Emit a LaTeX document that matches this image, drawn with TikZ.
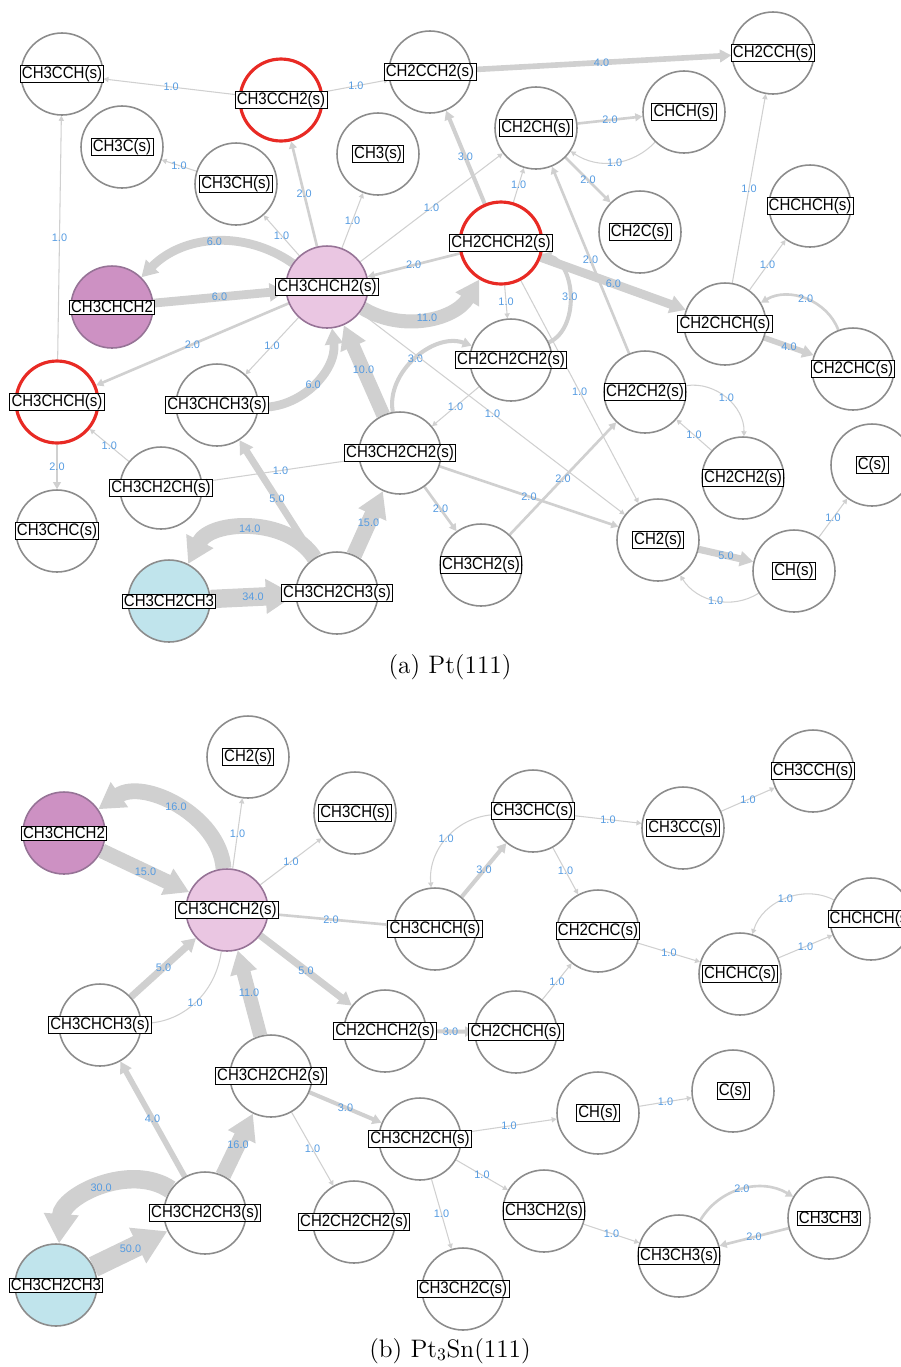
\documentclass[tikz,border=0pt]{standalone}
\usepackage{fontspec}
\newfontfamily\arial[FakeStretch=0.9]{Liberation Sans}
\newfontfamily\arialn{Liberation Sans}
\usetikzlibrary{arrows.meta}
\definecolor{edg}{RGB}{208,208,208}
\definecolor{ring}{RGB}{140,140,140}
\definecolor{hotred}{RGB}{232,42,36}
\definecolor{numblue}{RGB}{85,155,225}
\definecolor{purp}{RGB}{205,145,195}
\definecolor{pink}{RGB}{234,198,226}
\definecolor{cyan}{RGB}{192,228,236}
\definecolor{dring}{RGB}{150,115,150}
\pgfdeclarelayer{bg}
\pgfsetlayers{bg,main}

\begin{document}
\begin{tikzpicture}[x=0.02cm,y=-0.02cm,
    spc/.style={circle,draw=ring,line width=0.9pt,fill=white,minimum size=1.64cm,inner sep=0pt},
    hot/.style={draw=hotred,line width=1.8pt},
    gasp/.style={fill=purp,draw=dring},
    surp/.style={fill=pink,draw=dring},
    gasc/.style={fill=cyan},
    tag/.style={draw=black,fill=white,line width=0.5pt,inner xsep=1pt,inner ysep=0.6pt,font=\arial\fontsize{9.5}{10}\selectfont},
    fl/.style={draw=edg,line width=#1,-{Triangle[length=2pt 1.4,width=2pt 1.6]}},
    lbl/.style={text=numblue,inner sep=0.5pt,font=\arialn\fontsize{6.2}{6.2}\selectfont}]
    \useasboundingbox (0,0) rectangle (901,1367);

    % (a) Pt(111)
    \node[spc] (a3cch) at (62,74) {}; \node[tag] (a3cch-t) at (a3cch) {CH3CCH(s)};
    \node[spc,hot] (a3cch2) at (281,100) {}; \node[tag] (a3cch2-t) at (a3cch2) {CH3CCH2(s)};
    \node[spc] (a2cch2) at (430,72) {}; \node[tag] (a2cch2-t) at (a2cch2) {CH2CCH2(s)};
    \node[spc] (a2cch) at (773,53) {}; \node[tag] (a2cch-t) at (a2cch) {CH2CCH(s)};
    \node[spc] (a3c) at (122,147) {}; \node[tag] (a3c-t) at (a3c) {CH3C(s)};
    \node[spc] (a3ch) at (236,184) {}; \node[tag] (a3ch-t) at (a3ch) {CH3CH(s)};
    \node[spc] (a3) at (378,154) {}; \node[tag] (a3-t) at (a3) {CH3(s)};
    \node[spc] (a2ch) at (536,128) {}; \node[tag] (a2ch-t) at (a2ch) {CH2CH(s)};
    \node[spc] (ach) at (684,112) {}; \node[tag] (ach-t) at (ach) {CHCH(s)};
    \node[spc] (a2c) at (640,232) {}; \node[tag] (a2c-t) at (a2c) {CH2C(s)};
    \node[spc] (achchch) at (810,206) {}; \node[tag] (achchch-t) at (achchch) {CHCHCH(s)};
    \node[spc,hot] (a2ch2) at (501,243) {}; \node[tag] (a2ch2-t) at (a2ch2) {CH2CHCH2(s)};
    \node[spc,gasp] (agas) at (112,307) {}; \node[tag] (agas-t) at (agas) {CH3CHCH2};
    \node[spc,surp] (aprop) at (327,287) {}; \node[tag] (aprop-t) at (aprop) {CH3CHCH2(s)};
    \node[spc] (a2chch) at (725,324) {}; \node[tag] (a2chch-t) at (a2chch) {CH2CHCH(s)};
    \node[spc] (a2chc) at (853,369) {}; \node[tag] (a2chc-t) at (a2chc) {CH2CHC(s)};
    \node[spc] (a222) at (511,360) {}; \node[tag] (a222-t) at (a222) {CH2CH2CH2(s)};
    \node[spc,hot] (a3chch) at (57,402) {}; \node[tag] (a3chch-t) at (a3chch) {CH3CHCH(s)};
    \node[spc] (a3ch3) at (217,405) {}; \node[tag] (a3ch3-t) at (a3ch3) {CH3CHCH3(s)};
    \node[spc] (a32ch2) at (400,453) {}; \node[tag] (a32ch2-t) at (a32ch2) {CH3CH2CH2(s)};
    \node[spc] (aet) at (645,392) {}; \node[tag] (aet-t) at (aet) {CH2CH2(s)};
    \node[spc] (aetb) at (743,478) {}; \node[tag] (aetb-t) at (aetb) {CH2CH2(s)};
    \node[spc] (ac) at (872,465) {}; \node[tag] (ac-t) at (ac) {C(s)};
    \node[spc] (a32ch) at (161,488) {}; \node[tag] (a32ch-t) at (a32ch) {CH3CH2CH(s)};
    \node[spc] (a3chc) at (57,531) {}; \node[tag] (a3chc-t) at (a3chc) {CH3CHC(s)};
    \node[spc] (a32) at (481,565) {}; \node[tag] (a32-t) at (a32) {CH3CH2(s)};
    \node[spc] (ach2) at (658,540) {}; \node[tag] (ach2-t) at (ach2) {CH2(s)};
    \node[spc] (amch) at (794,571) {}; \node[tag] (amch-t) at (amch) {CH(s)};
    \node[spc,gasc] (apgas) at (169,601) {}; \node[tag] (apgas-t) at (apgas) {CH3CH2CH3};
    \node[spc] (apane) at (337,593) {}; \node[tag] (apane-t) at (apane) {CH3CH2CH3(s)};
    \node[anchor=base] (capa) at (450,673) {\fontsize{14.4}{16}\selectfont (a) Pt(111)};

    \begin{pgfonlayer}{bg}
    \draw[fl=0.6pt] (a3cch2) -- node[lbl]{1.0} (a3cch);
    \draw[fl=0.6pt] (a3cch2) -- node[lbl]{1.0} (a2cch2);
    \draw[fl=3.2pt] (a2cch2) -- node[lbl]{4.0} (a2cch);
    \draw[fl=0.6pt] (a3ch) -- node[lbl]{1.0} (a3c);
    \draw[fl=1.5pt] (aprop) -- node[lbl]{2.0} (a3cch2);
    \draw[fl=0.6pt] (aprop) -- node[lbl]{1.0} (a3ch);
    \draw[fl=0.6pt] (aprop) -- node[lbl]{1.0} (a3);
    \draw[fl=0.6pt] (aprop) -- node[lbl]{1.0} (a2ch);
    \draw[fl=5pt] (aprop) to[bend right=40] node[lbl]{6.0} (agas);
    \draw[fl=5pt] (agas) -- node[lbl]{6.0} (aprop);
    \draw[fl=1.5pt] (a2ch2) -- node[lbl]{2.0} (aprop);
    \draw[fl=8pt] (aprop) to[bend right=45] node[lbl]{11.0} (a2ch2);
    \draw[fl=1.5pt] (aprop) -- node[lbl]{2.0} (a3chch);
    \draw[fl=0.6pt] (aprop) -- node[lbl]{1.0} (a3ch3);
    \draw[fl=5pt] (a3ch3) to[bend right=50] node[lbl]{6.0} (aprop);
    \draw[fl=8pt] (a32ch2) -- node[lbl]{10.0} (aprop);
    \draw[fl=2.3pt] (a32ch2) to[bend left=60] node[lbl]{3.0} (a222);
    \draw[fl=0.6pt] (aprop) -- node[lbl]{1.0} (ach2);
    \draw[fl=0.6pt] (a222) -- node[lbl]{1.0} (a32ch2);
    \draw[fl=0.6pt] (a2ch2) -- node[lbl]{1.0} (a222);
    \draw[fl=2.3pt] (a222) to[bend right=70] node[lbl]{3.0} (a2ch2);
    \draw[fl=0.6pt] (a2ch2) -- node[lbl]{1.0} (a2ch);
    \draw[fl=2.3pt] (a2ch2) -- node[lbl]{3.0} (a2cch2);
    \draw[fl=1.5pt] (a2ch) -- node[lbl]{2.0} (ach);
    \draw[fl=0.6pt] (ach) to[bend left=40] node[lbl]{1.0} (a2ch);
    \draw[fl=1.5pt] (a2ch) -- node[lbl]{2.0} (a2c);
    \draw[fl=1.5pt] (aet) -- node[lbl]{2.0} (a2ch);
    \draw[fl=5pt] (a2ch2) -- node[lbl]{6.0} (a2chch);
    \draw[fl=0.6pt] (a2chch) -- node[lbl]{1.0} (a2cch);
    \draw[fl=0.6pt] (a2chch) -- node[lbl]{1.0} (achchch);
    \draw[fl=1.5pt] (a2chc) to[bend right=50] node[lbl]{2.0} (a2chch);
    \draw[fl=3.2pt] (a2chch) -- node[lbl]{4.0} (a2chc);
    \draw[fl=0.6pt] (aet) to[bend left=50] node[lbl]{1.0} (aetb);
    \draw[fl=0.6pt] (aetb) -- node[lbl]{1.0} (aet);
    \draw[fl=1.5pt] (a32) -- node[lbl]{2.0} (aet);
    \draw[fl=1.5pt] (a32ch2) -- node[lbl]{2.0} (ach2);
    \draw[fl=1.5pt] (a32ch2) -- node[lbl]{2.0} (a32);
    \draw[fl=0.6pt] (a32ch2) -- node[lbl]{1.0} (a32ch);
    \draw[fl=0.6pt] (a32ch) -- node[lbl]{1.0} (a3chch);
    \draw[fl=0.6pt] (a3chch) -- node[lbl]{1.0} (a3cch);
    \draw[fl=1.5pt] (a3chch) -- node[lbl]{2.0} (a3chc);
    \draw[fl=4pt] (apane) -- node[lbl]{5.0} (a3ch3);
    \draw[fl=9pt] (apane) to[bend right=60] node[lbl]{14.0} (apgas);
    \draw[fl=10.5pt] (apgas) -- node[lbl]{34.0} (apane);
    \draw[fl=9pt] (apane) -- node[lbl]{15.0} (a32ch2);
    \draw[fl=4pt] (ach2) -- node[lbl]{5.0} (amch);
    \draw[fl=0.6pt] (amch) to[bend left=45] node[lbl]{1.0} (ach2);
    \draw[fl=0.6pt] (amch) -- node[lbl]{1.0} (ac);
    \draw[fl=0.6pt] (a2ch2) -- node[lbl]{1.0} (ach2);
    \end{pgfonlayer}

    % (b) Pt3Sn(111)
    \node[spc] (b2) at (248,757) {}; \node[tag] (b2-t) at (b2) {CH2(s)};
    \node[spc] (b3ch) at (355,813) {}; \node[tag] (b3ch-t) at (b3ch) {CH3CH(s)};
    \node[spc,gasp] (bgas) at (64,833) {}; \node[tag] (bgas-t) at (bgas) {CH3CHCH2};
    \node[spc,surp] (bprop) at (227,910) {}; \node[tag] (bprop-t) at (bprop) {CH3CHCH2(s)};
    \node[spc] (b3chc) at (533,811) {}; \node[tag] (b3chc-t) at (b3chc) {CH3CHC(s)};
    \node[spc] (b3cc) at (683,828) {}; \node[tag] (b3cc-t) at (b3cc) {CH3CC(s)};
    \node[spc] (b3cch) at (813,771) {}; \node[tag] (b3cch-t) at (b3cch) {CH3CCH(s)};
    \node[spc] (b3chch) at (435,929) {}; \node[tag] (b3chch-t) at (b3chch) {CH3CHCH(s)};
    \node[spc] (b2chc) at (598,931) {}; \node[tag] (b2chc-t) at (b2chc) {CH2CHC(s)};
    \node[spc] (bchchch) at (871,919) {}; \node[tag] (bchchch-t) at (bchchch) {CHCHCH(s)};
    \node[spc] (bchchc) at (740,974) {}; \node[tag] (bchchc-t) at (bchchc) {CHCHC(s)};
    \node[spc] (b3ch3) at (100,1025) {}; \node[tag] (b3ch3-t) at (b3ch3) {CH3CHCH3(s)};
    \node[spc] (b2ch2) at (385,1031) {}; \node[tag] (b2ch2-t) at (b2ch2) {CH2CHCH2(s)};
    \node[spc] (b2chch) at (516,1032) {}; \node[tag] (b2chch-t) at (b2chch) {CH2CHCH(s)};
    \node[spc] (b32ch2) at (271,1076) {}; \node[tag] (b32ch2-t) at (b32ch2) {CH3CH2CH2(s)};
    \node[spc] (bch) at (598,1113) {}; \node[tag] (bch-t) at (bch) {CH(s)};
    \node[spc] (bc) at (733,1091) {}; \node[tag] (bc-t) at (bc) {C(s)};
    \node[spc] (b32ch) at (420,1139) {}; \node[tag] (b32ch-t) at (b32ch) {CH3CH2CH(s)};
    \node[spc] (b32) at (544,1211) {}; \node[tag] (b32-t) at (b32) {CH3CH2(s)};
    \node[spc] (beth) at (829,1218) {}; \node[tag] (beth-t) at (beth) {CH3CH3};
    \node[spc] (bethS) at (679,1256) {}; \node[tag] (bethS-t) at (bethS) {CH3CH3(s)};
    \node[spc] (bpane) at (205,1213) {}; \node[tag] (bpane-t) at (bpane) {CH3CH2CH3(s)};
    \node[spc] (b222) at (354,1222) {}; \node[tag] (b222-t) at (b222) {CH2CH2CH2(s)};
    \node[spc] (b32c) at (463,1289) {}; \node[tag] (b32c-t) at (b32c) {CH3CH2C(s)};
    \node[spc,gasc] (bpgas) at (56,1285) {}; \node[tag] (bpgas-t) at (bpgas) {CH3CH2CH3};
    \node[anchor=base] (capb) at (450,1357) {\fontsize{14.4}{16}\selectfont (b) Pt$_3$Sn(111)};

    \begin{pgfonlayer}{bg}
    \draw[fl=9pt] (bprop) to[bend right=60] node[lbl]{16.0} (bgas);
    \draw[fl=8.5pt] (bgas) -- node[lbl]{15.0} (bprop);
    \draw[fl=0.6pt] (bprop) -- node[lbl]{1.0} (b2);
    \draw[fl=0.6pt] (bprop) -- node[lbl]{1.0} (b3ch);
    \draw[fl=1.5pt] (bprop) -- node[lbl]{2.0} (b3chch);
    \draw[fl=4pt] (bprop) -- node[lbl]{5.0} (b2ch2);
    \draw[fl=4pt] (b3ch3) -- node[lbl]{5.0} (bprop);
    \draw[fl=0.6pt] (bprop) to[bend left=40] node[lbl]{1.0} (b3ch3);
    \draw[fl=8pt] (b32ch2) -- node[lbl]{11.0} (bprop);
    \draw[fl=2.3pt] (b3chch) -- node[lbl]{3.0} (b3chc);
    \draw[fl=0.6pt] (b3chc) to[bend right=45] node[lbl]{1.0} (b3chch);
    \draw[fl=0.6pt] (b3chc) -- node[lbl]{1.0} (b3cc);
    \draw[fl=0.6pt] (b3cc) -- node[lbl]{1.0} (b3cch);
    \draw[fl=0.6pt] (b3chc) -- node[lbl]{1.0} (b2chc);
    \draw[fl=0.6pt] (b2chc) -- node[lbl]{1.0} (bchchc);
    \draw[fl=0.6pt] (bchchc) -- node[lbl]{1.0} (bchchch);
    \draw[fl=0.6pt] (bchchch) to[bend right=50] node[lbl]{1.0} (bchchc);
    \draw[fl=2.3pt] (b2ch2) -- node[lbl]{3.0} (b2chch);
    \draw[fl=0.6pt] (b2chch) -- node[lbl]{1.0} (b2chc);
    \draw[fl=9pt] (bpane) -- node[lbl]{16.0} (b32ch2);
    \draw[fl=3.2pt] (bpane) -- node[lbl]{4.0} (b3ch3);
    \draw[fl=10.5pt] (bpane) to[bend right=60] node[lbl]{30.0} (bpgas);
    \draw[fl=12pt] (bpgas) -- node[lbl]{50.0} (bpane);
    \draw[fl=2.3pt] (b32ch2) -- node[lbl]{3.0} (b32ch);
    \draw[fl=0.6pt] (b32ch2) -- node[lbl]{1.0} (b222);
    \draw[fl=0.6pt] (b32ch) -- node[lbl]{1.0} (bch);
    \draw[fl=0.6pt] (bch) -- node[lbl]{1.0} (bc);
    \draw[fl=0.6pt] (b32ch) -- node[lbl]{1.0} (b32);
    \draw[fl=0.6pt] (b32ch) -- node[lbl]{1.0} (b32c);
    \draw[fl=0.6pt] (b32) -- node[lbl]{1.0} (bethS);
    \draw[fl=1.5pt] (bethS) to[bend left=45] node[lbl]{2.0} (beth);
    \draw[fl=1.5pt] (beth) -- node[lbl]{2.0} (bethS);
    \end{pgfonlayer}
\end{tikzpicture}
\end{document}
